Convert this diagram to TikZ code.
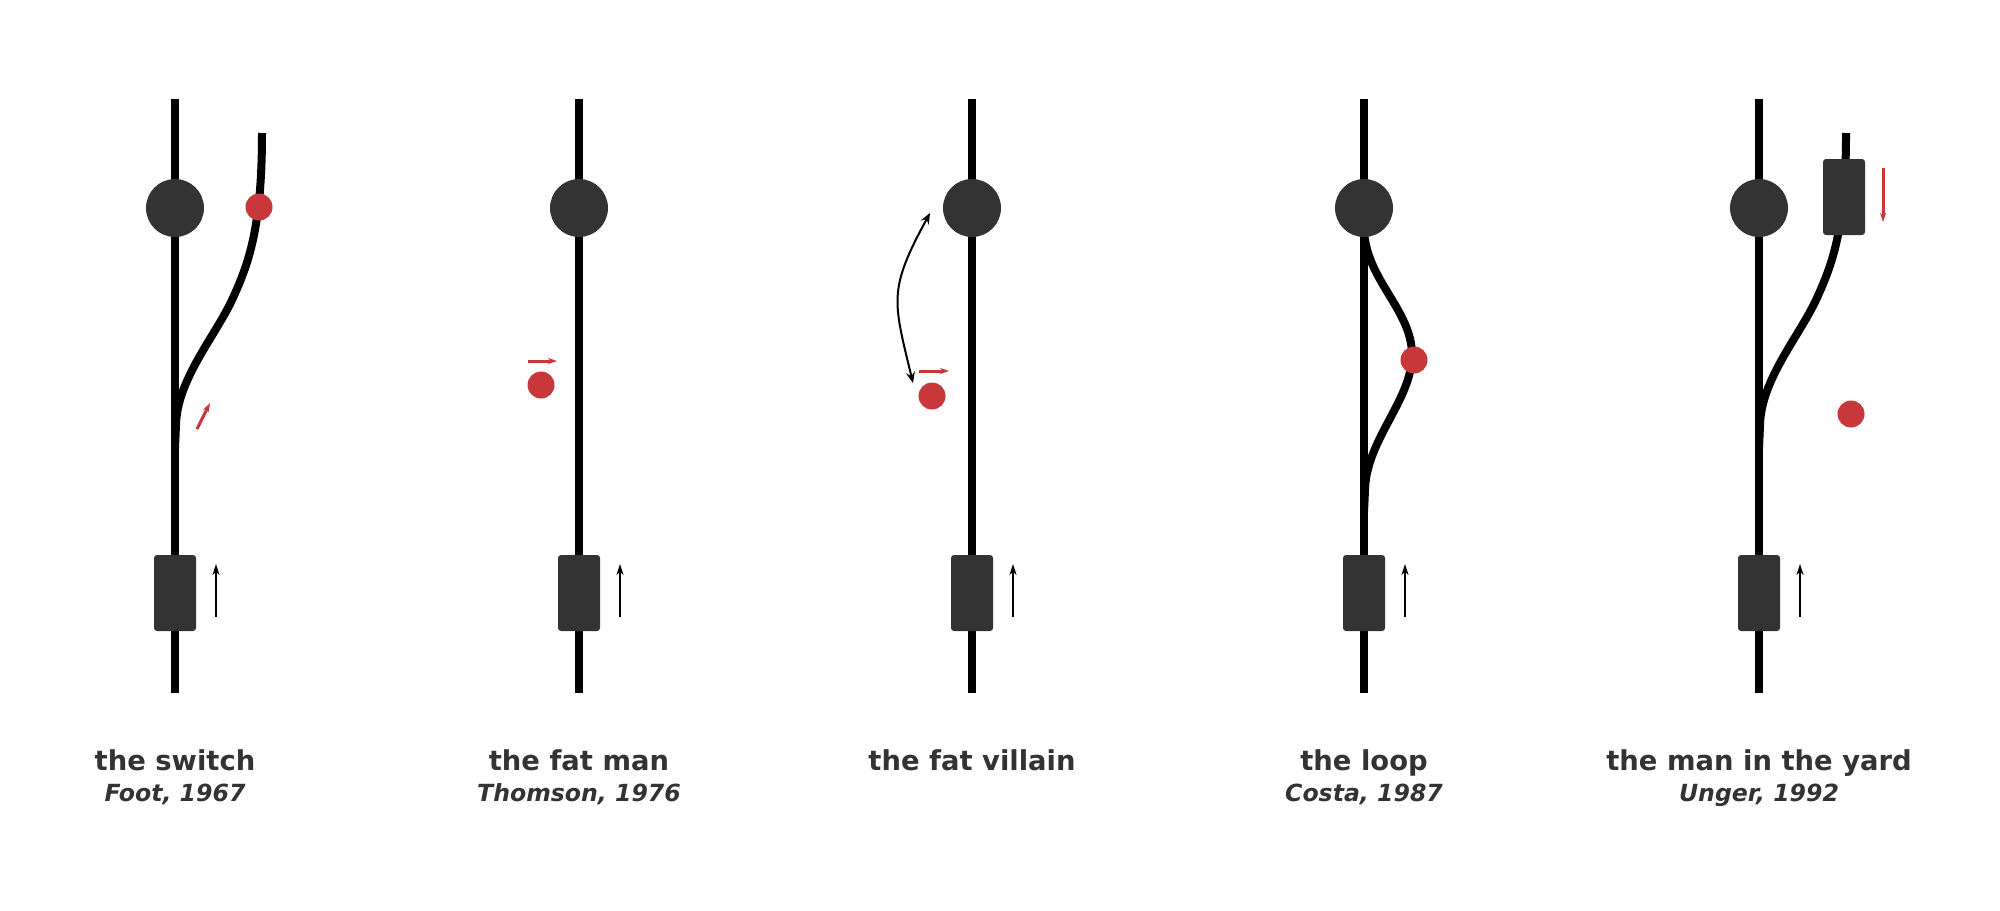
\documentclass[tikz,border=0pt]{standalone}
\usepackage{fontspec}
\setmainfont{DejaVu Sans}
\usetikzlibrary{arrows.meta}
\definecolor{dk}{HTML}{333333}
\definecolor{rd}{HTML}{C8383A}
\begin{document}
\begin{tikzpicture}[x=0.5pt,y=-0.5pt,
  track/.style={line width=4pt, black},
  bigc/.style={circle, fill=dk, minimum size=29pt, inner sep=0pt},
  redc/.style={circle, fill=rd, minimum size=13.5pt, inner sep=0pt},
  trainbox/.style={rectangle, rounded corners=1.5pt, fill=dk, minimum width=21pt, minimum height=38pt, inner sep=0pt},
  moveb/.style={line width=1pt, -{Stealth[length=5.5pt,width=3.5pt]}},
  mover/.style={rd, line width=1.5pt, -{Stealth[length=4.5pt,width=3pt]}},
  curvarr/.style={line width=1pt, {Stealth[length=5.5pt,width=4.5pt,inset=2pt]}-{Stealth[length=5.5pt,width=4.5pt,inset=2pt]}},
  title/.style={font=\bfseries\fontsize{13.7}{16}\selectfont, text=dk, anchor=base, inner sep=0pt},
  sub/.style={font=\bfseries\itshape\fontsize{11.8}{14}\selectfont, text=dk, anchor=base, inner sep=0pt}]
\fill[white] (0,0) rectangle (2000,910);
\useasboundingbox (0,0) rectangle (2000,910);

% common parts of every panel
\foreach \x [count=\i] in {175,579,972,1364,1759} {
  \coordinate (top\i) at (\x,99);
  \coordinate (bot\i) at (\x,693);
  \draw[track] (top\i) -- (bot\i);
}

% branches
\coordinate (br1) at (262,133);
\draw[track] (br1) .. controls (262,230) and (248,265) .. (232,300)
  .. controls (214,338) and (177,380) .. (176,425) -- (175,448);
\coordinate (lp4) at (1364,230);
\draw[track] (lp4) .. controls (1366,280) and (1412,310) .. (1412,355)
  .. controls (1412,400) and (1366,440) .. (1365,490) -- (1364,512);
\coordinate (br5) at (1846,133);
\draw[track] (br5) .. controls (1846,230) and (1832,265) .. (1816,300)
  .. controls (1798,338) and (1761,380) .. (1760,425) -- (1759,448);

\foreach \x [count=\i] in {175,579,972,1364,1759} {
  \node[bigc] (c\i) at (\x,208) {};
  \node[trainbox] (tr\i) at (\x,593) {};
  \coordinate (as\i) at (\x+41,617);
  \coordinate (ae\i) at (\x+41,564);
  \draw[moveb] (as\i) -- (ae\i);
}

% panel 1
\node[redc] (r1) at (259,207) {};
\coordinate (ra1s) at (197,429);
\coordinate (ra1e) at (210,403);
\draw[mover] (ra1s) -- (ra1e);

% panel 2
\node[redc] (r2) at (541,385) {};
\coordinate (ra2s) at (528,361);
\coordinate (ra2e) at (557,361);
\draw[mover] (ra2s) -- (ra2e);

% panel 3
\node[redc] (r3) at (932,396) {};
\coordinate (ra3s) at (919,371);
\coordinate (ra3e) at (949,371);
\draw[mover] (ra3s) -- (ra3e);
\coordinate (ca1) at (913,383);
\coordinate (ca2) at (930,213);
\draw[curvarr] (ca1) .. controls (893,300) and (888,290) .. (ca2);

% panel 4
\node[redc] (r4) at (1414,360) {};

% panel 5
\node[trainbox] (tr5b) at (1844,197) {};
\node[redc] (r5) at (1851,414) {};
\coordinate (ra5s) at (1883,168);
\coordinate (ra5e) at (1883,222);
\draw[mover] (ra5s) -- (ra5e);

% labels
\node[title] (l1) at (175,770) {the switch};
\node[sub] (s1) at (175,801) {Foot, 1967};
\node[title] (l2) at (579,770) {the fat man};
\node[sub] (s2) at (579,801) {Thomson, 1976};
\node[title] (l3) at (972,770) {the fat villain};
\node[title] (l4) at (1364,770) {the loop};
\node[sub] (s4) at (1364,801) {Costa, 1987};
\node[title] (l5) at (1759,770) {the man in the yard};
\node[sub] (s5) at (1759,801) {Unger, 1992};
\end{tikzpicture}
\end{document}
